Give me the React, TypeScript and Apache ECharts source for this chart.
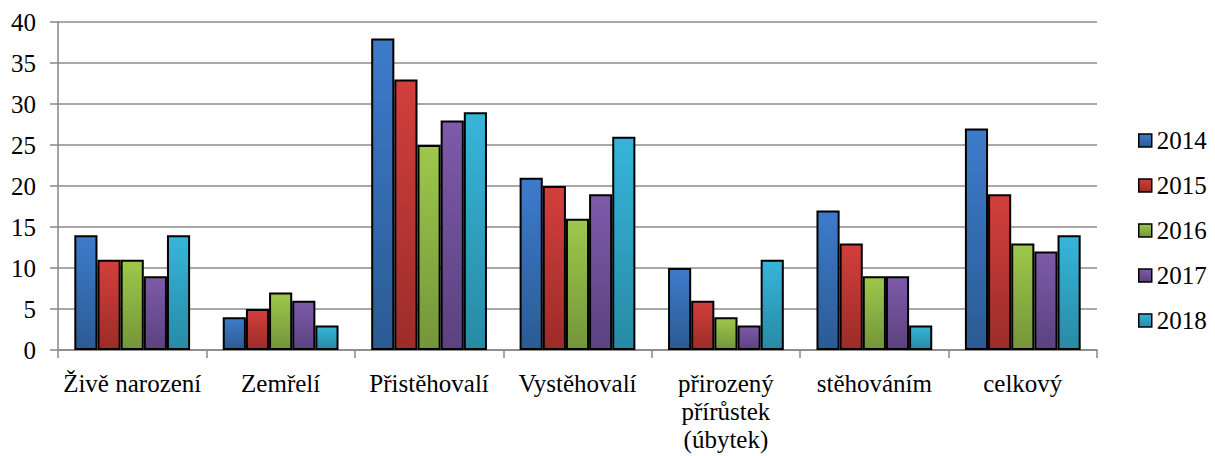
import React, { useEffect, useRef } from "react";
import * as echarts from "echarts";

const categories = [
  "Živě narození",
  "Zemřelí",
  "Přistěhovalí",
  "Vystěhovalí",
  "přirozený\npřírůstek\n(úbytek)",
  "stěhováním",
  "celkový",
];
const years = ["2014", "2015", "2016", "2017", "2018"];
const v2014 = [14, 4, 38, 21, 10, 17, 27];
const v2015 = [11, 5, 33, 20, 6, 13, 19];
const v2016 = [11, 7, 25, 16, 4, 9, 13];
const v2017 = [9, 6, 28, 19, 3, 9, 12];
const v2018 = [14, 3, 29, 26, 11, 3, 14];
const seriesValues = [v2014, v2015, v2016, v2017, v2018];
const yTicks = [0, 5, 10, 15, 20, 25, 30, 35, 40];

const colorStops: [string, string][] = [
  ["#3d7bcb", "#2b5b94"],
  ["#d23f3b", "#9c2c29"],
  ["#9dc84b", "#74953a"],
  ["#7e5aa9", "#5b4280"],
  ["#36b5da", "#288aa5"],
];

const FONT = "Liberation Serif";
const FS = 25;

export default function App() {
  const ref = useRef<HTMLDivElement>(null);
  useEffect(() => {
    const chart = echarts.init(ref.current!, undefined, { renderer: "svg" });
    chart.setOption({
      animation: false,
      grid: { left: 58, right: 118, top: 22, bottom: 106 },
      legend: {
        orient: "vertical",
        left: 1133,
        top: 123,
        itemWidth: 13,
        itemHeight: 13,
        itemGap: 20,
        icon: "rect",
        data: years,
        textStyle: { fontFamily: FONT, fontSize: FS, color: "#000" },
        itemStyle: { borderColor: "#000", borderWidth: 1.5 },
      },
      xAxis: {
        type: "category",
        data: categories,
        axisLine: { lineStyle: { color: "#878787", width: 1.5 } },
        axisTick: { show: true, length: 8, lineStyle: { color: "#878787", width: 1.5 } },
        axisLabel: {
          interval: 0,
          margin: 19,
          formatter: (v: string) =>
            v
              .split("\n")
              .map((s) => "{a|" + s + "}")
              .join("\n"),
          rich: {
            a: { fontFamily: FONT, fontSize: FS, color: "#000", lineHeight: 28 },
          },
        },
      },
      yAxis: {
        type: "value",
        min: yTicks[0],
        max: yTicks[yTicks.length - 1],
        interval: 5,
        axisLine: { show: true, lineStyle: { color: "#878787", width: 1.5 } },
        axisTick: { show: true, length: 8, lineStyle: { color: "#878787", width: 1.5 } },
        splitLine: { lineStyle: { color: "#8c8c8c", width: 1.5 } },
        axisLabel: { fontFamily: FONT, fontSize: FS, color: "#000", margin: 22 },
      },
      series: years.map((y, i) => ({
        name: y,
        type: "bar",
        data: seriesValues[i],
        barGap: "0%",
        barCategoryGap: "22%",
        itemStyle: {
          color: new echarts.graphic.LinearGradient(0, 0, 0, 1, [
            { offset: 0, color: colorStops[i][0] },
            { offset: 1, color: colorStops[i][1] },
          ]),
          borderColor: "#000",
          borderWidth: 2,
        },
      })),
    });
    return () => chart.dispose();
  }, []);
  return (
    <div
      ref={ref}
      style={{ position: "absolute", left: 0, top: 0, width: 1215, height: 456 }}
    />
  );
}
